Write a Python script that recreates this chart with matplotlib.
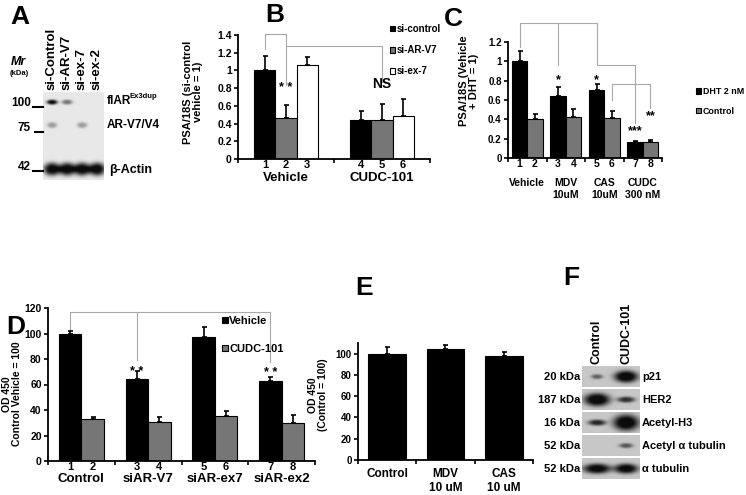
import numpy as np
import matplotlib
matplotlib.use('Agg')
import matplotlib.pyplot as plt
from matplotlib.lines import Line2D

plt.rcParams['font.family'] = ['Liberation Sans', 'DejaVu Sans']
plt.rcParams['font.weight'] = 'bold'
plt.rcParams['axes.linewidth'] = 1.3

# ---- data ----
# A: western blot
a_lanes = ['si-Control', 'si-AR-V7', 'si-ex-7', 'si-ex-2']
a_markers = ['100', '75', '42']
a_bands = ['flAR', 'AR-V7/V4', 'β-Actin']
a_amp = [[0.88, 0.45, 0.0, 0.0],
         [0.30, 0.0, 0.30, 0.0],
         [0.90, 0.90, 0.90, 0.90]]

# B: PSA/18S
b_groups = ['Vehicle', 'CUDC-101']
b_series = ['si-control', 'si-AR-V7', 'si-ex-7']
b_ctrl = [1.00, 0.445]
b_ctrl_err = [0.16, 0.095]
b_arv7 = [0.465, 0.44]
b_arv7_err = [0.15, 0.185]
b_ex7 = [1.06, 0.49]
b_ex7_err = [0.09, 0.19]
b_numbers = ['1', '2', '3', '4', '5', '6']

# C: PSA/18S with DHT
c_groups = ['Vehicle', 'MDV\n10uM', 'CAS\n10uM', 'CUDC\n300 nM']
c_dht = [1.00, 0.64, 0.70, 0.163]
c_dht_err = [0.11, 0.09, 0.07, 0.01]
c_ctrl = [0.405, 0.425, 0.41, 0.17]
c_ctrl_err = [0.05, 0.083, 0.08, 0.015]
c_numbers = ['1', '2', '3', '4', '5', '6', '7', '8']

# D: OD 450
d_groups = ['Control', 'siAR-V7', 'siAR-ex7', 'siAR-ex2']
d_vehicle = [100.0, 64.6, 97.0, 63.0]
d_vehicle_err = [2.0, 6.0, 8.4, 3.1]
d_cudc = [33.2, 30.6, 35.3, 29.5]
d_cudc_err = [1.0, 3.6, 3.7, 6.8]
d_numbers = ['1', '2', '3', '4', '5', '6', '7', '8']

# E: OD 450
e_groups = ['Control', 'MDV\n10 uM', 'CAS\n10 uM']
e_vals = [99.7, 104.4, 98.1]
e_err = [6.3, 3.4, 3.1]

# F: western blot
f_lanes = ['Control', 'CUDC-101']
f_rows = ['p21', 'HER2', 'Acetyl-H3', 'Acetyl α tubulin', 'α tubulin']
f_kda = ['20 kDa', '187 kDa', '16 kDa', '52 kDa', '52 kDa']
f_amp = [[0.40, 0.85], [0.85, 0.60], [0.65, 0.85], [0.0, 0.45], [0.80, 0.80]]
f_sx = [[6, 12], [13, 9], [9, 13], [7, 7], [14, 12]]
f_sy = [[2.5, 6], [6.5, 3], [3, 8], [2.5, 2.5], [5, 5]]

# ---- layout helpers (pixel coords, origin top-left) ----
W, H = 746, 495
fig = plt.figure(figsize=(W / 100, H / 100), dpi=100)


def box(x0, y0, x1, y1):
    return [x0 / W, 1 - y1 / H, (x1 - x0) / W, (y1 - y0) / H]


def ftext(x, y, s, **kw):
    return fig.text(x / W, 1 - y / H, s, **kw)


def fline(x0, x1, y, lw=1.5):
    fig.add_artist(Line2D([x0 / W, x1 / W], [1 - y / H, 1 - y / H],
                          transform=fig.transFigure, color='black', lw=lw))


def draw_blot(ax, w, h, bands, bg):
    s = 4
    yy, xx = np.mgrid[0:h * s, 0:w * s] / s
    img = np.full(xx.shape, bg)
    for xc, yc, sx, sy, amp in bands:
        r = ((xx - xc) / sx) ** 2 + ((yy - yc) / sy) ** 2
        img -= amp * np.exp(-r ** 1.5)
    ax.imshow(np.clip(img, 0.05, 1), cmap='gray', vmin=0, vmax=1,
              aspect='auto', interpolation='bilinear')
    ax.axis('off')


def style_axes(ax, nb_cat, ylim, yticks, yfmt, fs):
    ax.spines['top'].set_visible(False)
    ax.spines['right'].set_visible(False)
    ax.set_xlim(-0.5, nb_cat - 0.5)
    ax.set_ylim(*ylim)
    ax.set_yticks(yticks)
    ax.set_yticklabels([yfmt(v) for v in yticks])
    ax.set_xticks(np.arange(nb_cat + 1) - 0.5)
    ax.set_xticklabels([])
    ax.tick_params(axis='both', which='major', direction='out', length=3,
                   width=1.2, labelsize=fs, pad=1.5)


def numbers(ax, xs, labels, fs):
    ax.set_xticks(xs, minor=True)
    ax.set_xticklabels(labels, minor=True, fontsize=fs)
    ax.tick_params(axis='x', which='minor', length=0, pad=1)


def err(ax, x, y, e):
    ax.errorbar(x, y, yerr=[np.zeros(len(e)), e], fmt='none', ecolor='black',
                elinewidth=1.2, capsize=1.8, capthick=1.2, zorder=1)


def bracket(ax, xs, ys, color='#a8a8a8'):
    ax.plot(xs, ys, color=color, lw=0.8, clip_on=False, zorder=0)


def gfmt(v):
    return ('%g' % v)


GRAY = '#767676'

# ---- Panel A ----
axA = fig.add_axes(box(43, 92, 104, 180))
lane_x = [9 + 15 * i for i in range(len(a_lanes))]
band_y = [10, 33, 77]
band_sx = [5.5, 5, 8.5]
band_sy = [2.5, 3, 6.5]
bands = []
for r in range(len(a_bands)):
    for i in range(len(a_lanes)):
        if a_amp[r][i] > 0:
            bands.append((lane_x[i], band_y[r], band_sx[r], band_sy[r], a_amp[r][i]))
draw_blot(axA, 61, 88, bands, 0.91)
for i, lab in enumerate(a_lanes):
    ftext(43 + lane_x[i], 90, lab, rotation=90, ha='center', va='bottom', fontsize=9.5)
for lab, y, x0 in zip(a_markers, [103, 128, 167], [33, 35, 33]):
    ftext(31, y, lab, ha='right', va='center', fontsize=8.5)
    fline(x0, 43, y + 4)
ftext(11, 62, 'Mr', ha='left', va='center', fontsize=9, style='italic')
ftext(10, 73, '(kDa)', ha='left', va='center', fontsize=5.5)
ftext(107, 101, a_bands[0], ha='left', va='center', fontsize=8.5)
ftext(129, 96, 'Ex3dup', ha='left', va='center', fontsize=5.5)
ftext(107, 125, a_bands[1], ha='left', va='center', fontsize=8.5)
ftext(109, 170, a_bands[2], ha='left', va='center', fontsize=9)

# ---- Panel B ----
axB = fig.add_axes(box(238, 35, 430, 159))
bw = 0.22
xb = np.arange(len(b_groups))
cols = ['black', GRAY, 'white']
hB = []
for k, (vals, es) in enumerate([(b_ctrl, b_ctrl_err), (b_arv7, b_arv7_err), (b_ex7, b_ex7_err)]):
    xs = xb + (k - 1) * bw
    hB.append(axB.bar(xs, vals, bw, color=cols[k], edgecolor='black', lw=0.8, zorder=2,
                      label=b_series[k]))
    err(axB, xs, vals, es)
style_axes(axB, 2, (0, 1.4), np.arange(0, 1.41, 0.2), gfmt, 7.5)
numbers(axB, np.concatenate([xb - bw, xb, xb + bw]).reshape(3, -1).T.ravel(), b_numbers, 8)
for i, g in enumerate(b_groups):
    axB.text(i, -0.15, g, transform=axB.get_xaxis_transform(), ha='center', va='center', fontsize=9.5)
bracket(axB, [-bw, -bw, 0, 0], [1.24, 1.41, 1.41, 0.835])
bracket(axB, [0, 1 + 0, 1 + 0], [1.275, 1.275, 0.87])
axB.text(0, 0.80, '* *', ha='center', va='center', fontsize=9)
axB.text(1.0, 0.85, 'NS', ha='center', va='center', fontsize=10)
axB.legend(handles=hB, loc='upper left', bbox_to_anchor=(390 / W, 1 - 24 / H),
           bbox_transform=fig.transFigure, frameon=False, fontsize=7,
           handlelength=0.55, handleheight=0.55, handletextpad=0.15,
           labelspacing=1.15, borderpad=0, borderaxespad=0)
ftext(193, 92, 'PSA/18S (si-control\nvehicle = 1)', rotation=90, ha='center', va='center',
      fontsize=8, multialignment='center', linespacing=1.0)

# ---- Panel C ----
axC = fig.add_axes(box(508, 42, 662, 158))
cw = 0.4
xc = np.arange(len(c_groups))
hC1 = axC.bar(xc - cw / 2, c_dht, cw, color='black', edgecolor='black', lw=0.8, zorder=2, label='DHT 2 nM')
hC2 = axC.bar(xc + cw / 2, c_ctrl, cw, color=GRAY, edgecolor='black', lw=0.8, zorder=2, label='Control')
err(axC, xc - cw / 2, c_dht, c_dht_err)
err(axC, xc + cw / 2, c_ctrl, c_ctrl_err)
style_axes(axC, 4, (0, 1.2), np.arange(0, 1.21, 0.2), gfmt, 7)
numbers(axC, np.column_stack([xc - cw / 2, xc + cw / 2]).ravel(), c_numbers, 7.5)
for i, g in enumerate(c_groups):
    axC.text(i, -0.17, g, transform=axC.get_xaxis_transform(), ha='center', va='top',
             fontsize=7.5, linespacing=1.25)
bracket(axC, [-0.2, -0.2, 1.8], [1.15, 1.40, 1.40])
bracket(axC, [0.8, 0.8], [1.40, 0.96])
bracket(axC, [1.8, 1.8, 2.8, 2.8], [1.40, 0.96, 0.96, 0.36])
bracket(axC, [2.2, 2.2, 3.2, 3.2], [0.60, 0.765, 0.765, 0.52])
for x, y, s in [(0.8, 0.80, '*'), (1.8, 0.81, '*'), (2.8, 0.28, '***'), (3.2, 0.43, '**')]:
    axC.text(x, y, s, ha='center', va='center', fontsize=9)
axC.legend(handles=[hC1, hC2], loc='upper left', bbox_to_anchor=(696 / W, 1 - 87 / H),
           bbox_transform=fig.transFigure, frameon=False, fontsize=6.4,
           handlelength=0.6, handleheight=0.6, handletextpad=0.2,
           labelspacing=1.2, borderpad=0, borderaxespad=0)
ftext(469, 81, 'PSA/18S (Vehicle\n+ DHT = 1)', rotation=90, ha='center', va='center',
      fontsize=8, multialignment='center', linespacing=1.0)

# ---- Panel D ----
axD = fig.add_axes(box(48, 308, 315, 461))
dw = 0.336
xd = np.arange(len(d_groups))
hD1 = axD.bar(xd - dw / 2, d_vehicle, dw, color='black', edgecolor='black', lw=0.8, zorder=2, label='Vehicle')
hD2 = axD.bar(xd + dw / 2, d_cudc, dw, color=GRAY, edgecolor='black', lw=0.8, zorder=2, label='CUDC-101')
err(axD, xd - dw / 2, d_vehicle, d_vehicle_err)
err(axD, xd + dw / 2, d_cudc, d_cudc_err)
style_axes(axD, 4, (0, 120), np.arange(0, 121, 20), gfmt, 7.5)
numbers(axD, np.column_stack([xd - dw / 2, xd + dw / 2]).ravel(), d_numbers, 8)
for i, g in enumerate(d_groups):
    axD.text(i, -0.115, g, transform=axD.get_xaxis_transform(), ha='center', va='center', fontsize=9.5)
bracket(axD, [-dw / 2, -dw / 2, 3 - dw / 2, 3 - dw / 2], [103, 117, 117, 78])
bracket(axD, [1 - dw / 2, 1 - dw / 2], [117, 79])
axD.text(1 - dw / 2, 70, '* *', ha='center', va='center', fontsize=9)
axD.text(3 - dw / 2, 69, '* *', ha='center', va='center', fontsize=9)
axD.legend(handles=[hD1, hD2], loc='upper left', bbox_to_anchor=(222 / W, 1 - 316 / H),
           bbox_transform=fig.transFigure, frameon=False, fontsize=8,
           handlelength=0.5, handleheight=0.5, handletextpad=0.15,
           labelspacing=1.6, borderpad=0, borderaxespad=0)
ftext(12, 394, 'OD 450\nControl Vehicle = 100', rotation=90, ha='center', va='center',
      fontsize=7.5, multialignment='center', linespacing=1.0)

# ---- Panel E ----
axE = fig.add_axes(box(358, 343, 533, 460))
xe = np.arange(len(e_groups))
axE.bar(xe, e_vals, 0.65, color='black', edgecolor='black', lw=0.8, zorder=2)
err(axE, xe, e_vals, e_err)
style_axes(axE, 3, (0, 110), np.arange(0, 101, 20), gfmt, 7)
for i, g in enumerate(e_groups):
    axE.text(i, -0.065, g, transform=axE.get_xaxis_transform(), ha='center', va='top',
             fontsize=8.5, linespacing=1.3)
ftext(318, 395, 'OD 450\n(Control = 100)', rotation=90, ha='center', va='center',
      fontsize=7.5, multialignment='center', linespacing=1.0)

# ---- Panel F ----
f_lane_x = [15, 44]
for r, name in enumerate(f_rows):
    top = 366 + 23 * r
    ax = fig.add_axes(box(582, top, 640, top + 21))
    bands = [(f_lane_x[i], 10.5, f_sx[r][i], f_sy[r][i], f_amp[r][i])
             for i in range(len(f_lanes)) if f_amp[r][i] > 0]
    draw_blot(ax, 58, 21, bands, 0.78)
    ftext(580, top + 11, f_kda[r], ha='right', va='center', fontsize=8)
    ftext(642, top + 11, name, ha='left', va='center', fontsize=8)
for i, lab in enumerate(f_lanes):
    ftext(582 + f_lane_x[i], 364, lab, rotation=90, ha='center', va='bottom', fontsize=9)

# ---- panel letters ----
for s, x, y in [('A', 20, 17), ('B', 275, 15), ('C', 453, 19),
                ('D', 16, 327), ('E', 364, 288), ('F', 571, 278)]:
    ftext(x, y, s, ha='center', va='center', fontsize=19)

fig.savefig('out.png', dpi=100)
